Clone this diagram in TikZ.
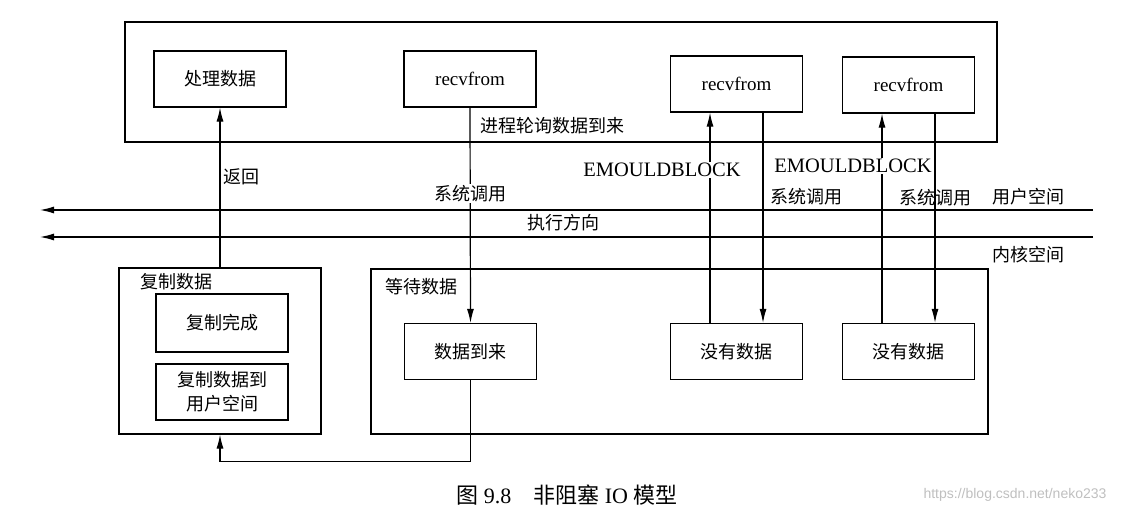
\documentclass[tikz,border=0pt]{standalone}
\usepackage{fontspec}
\setmainfont{Liberation Serif}
\newfontfamily\cjk{Noto Sans CJK SC}
\newfontfamily\wmfont{Liberation Sans}
\usetikzlibrary{arrows.meta}

\tikzset{
  box/.style={draw, line width=1.2pt, minimum width=132pt, minimum height=56pt, inner sep=0pt, font=\cjk\fontsize{18}{24}\selectfont},
  latin/.style={font=\fontsize{19}{24}\selectfont},
  frame/.style={draw, line width=1.2pt, inner sep=0pt},
  lbl/.style={font=\cjk\fontsize{18}{22}\selectfont, inner sep=1pt},
  arr/.style={line width=1.2pt, -{Latex[length=14pt,width=7pt]}},
}

\begin{document}
\begin{tikzpicture}[x=1pt,y=-1pt]
\useasboundingbox (0,0) rectangle (1127,519);
% user space
\node[frame, minimum width=872pt, minimum height=120pt] (user) at (561,82) {};
\node[box] (proc) at (220,79) {处理数据};
\node[box, latin] (recvA) at (470,79) {recvfrom};
\node[box, latin] (recvB) at (736.5,84) {recvfrom};
\node[box, latin] (recvC) at (908.5,85) {recvfrom};
\node[lbl, anchor=west] (poll) at (479,126) {进程轮询数据到来};

% kernel space
\node[frame, minimum width=202pt, minimum height=166pt] (copy) at (220,351) {};
\node[lbl] (copylbl) at (176,282) {复制数据};
\node[box, minimum height=58pt] (done) at (222,323) {复制完成};
\node[box, align=center] (copyto) at (222,392) {复制数据到\\用户空间};
\node[frame, minimum width=617pt, minimum height=165pt] (wait) at (679.5,351.5) {};
\node[lbl] (waitlbl) at (421,287) {等待数据};
\node[box] (arrive) at (470.5,351.5) {数据到来};
\node[box] (noneA) at (736.5,351.5) {没有数据};
\node[box] (noneB) at (908.5,351.5) {没有数据};

% boundary
\coordinate (upR) at (1093,210);
\coordinate (upL) at (40,210);
\coordinate (lowR) at (1093,237);
\coordinate (lowL) at (40,237);
\draw[arr] (upR) -- (upL);
\draw[arr] (lowR) -- (lowL);
\node[lbl] (uspace) at (1028,197) {用户空间};
\node[lbl] (kspace) at (1028,255) {内核空间};
\node[lbl] (dir) at (563,223) {执行方向};

% calls
\draw[arr] (recvA.south) -- node[lbl, fill=white, pos=0.4] {系统调用} (arrive.north);
\draw[arr] ([xshift=26.5pt]recvB.south) -- node[lbl, right, pos=0.4, xshift=6pt] {系统调用} ([xshift=26.5pt]noneA.north);
\draw[arr] ([xshift=26.5pt]recvC.south) -- node[lbl, pos=0.4] {系统调用} ([xshift=26.5pt]noneB.north);
\draw[arr] ([xshift=-26.5pt]noneA.north) -- ([xshift=-26.5pt]recvB.south);
\draw[arr] ([xshift=-26.5pt]noneB.north) -- ([xshift=-26.5pt]recvC.south);
\node[font=\fontsize{20.5}{24}\selectfont, fill=white, inner sep=1pt] (errA) at (662,170) {EMOULDBLOCK};
\node[font=\fontsize{20.5}{24}\selectfont, fill=white, inner sep=1pt] (errB) at (853,166) {EMOULDBLOCK};

% return path
\draw[arr] (arrive.south) |- ([yshift=-27pt]copy.south) -- (copy.south);
\draw[arr] (copy.north) -- node[lbl, right, pos=0.565, xshift=2pt] {返回} (proc.south);

% caption
\node[font=\fontsize{22}{26}\selectfont] (cap) at (567,495) {{\cjk 图} 9.8\quad{\cjk 非阻塞} IO {\cjk 模型}};
\node[font=\wmfont\fontsize{14}{16}\selectfont, text=gray!50] (mark) at (1015,495) {https://blog.csdn.net/neko233};
\end{tikzpicture}
\end{document}
